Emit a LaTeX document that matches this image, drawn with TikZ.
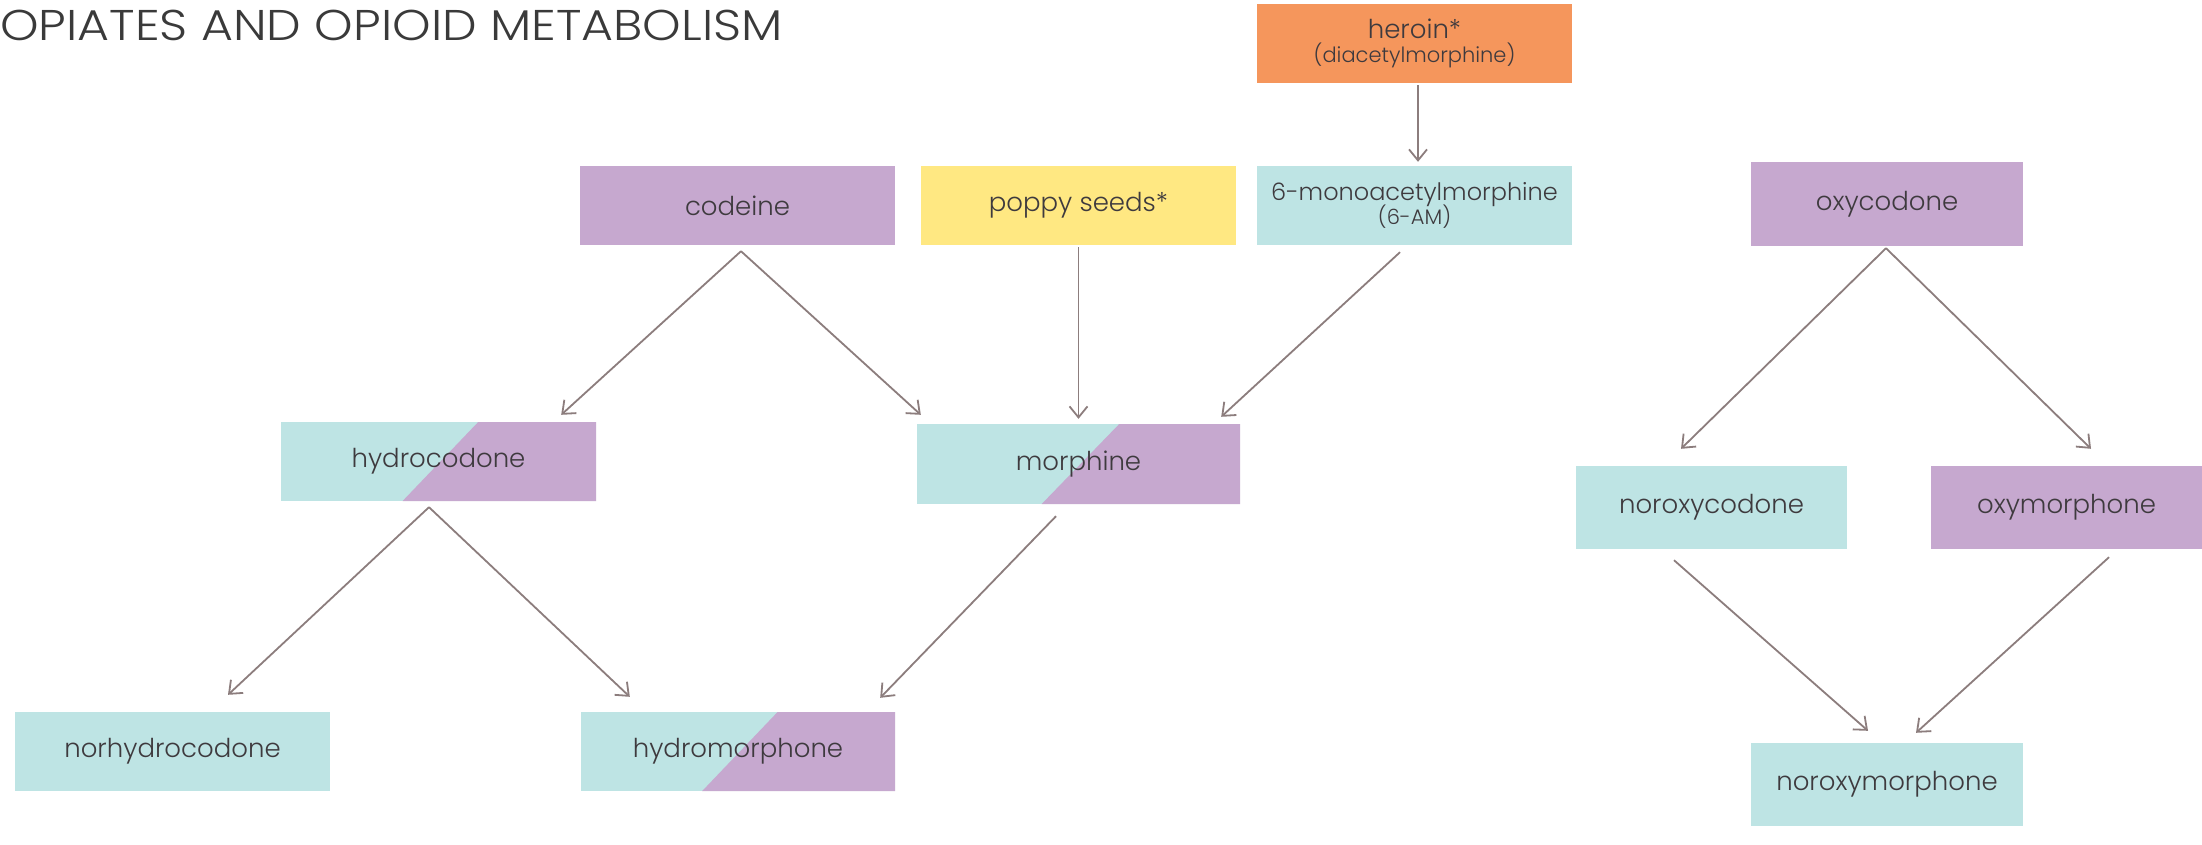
\documentclass[tikz,border=0pt]{standalone}
\usepackage{fontspec}
\setmainfont{Poppins Light}
\usetikzlibrary{arrows.meta,calc}
\definecolor{tealbox}{HTML}{BEE4E4}
\definecolor{purpbox}{HTML}{C6A8CF}
\definecolor{yellbox}{HTML}{FFE882}
\definecolor{orngbox}{HTML}{F5965C}
\definecolor{arrowc}{HTML}{8C7D7D}
\definecolor{txt}{HTML}{3E3A3E}
\definecolor{titlec}{HTML}{3A3A3A}
\begin{document}
\begin{tikzpicture}[x=1pt,y=-1pt,
  box/.style={inner sep=0pt, minimum width=315pt, minimum height=79pt,
    font=\fontsize{26}{30}\selectfont, text=txt, align=center},
  tealb/.style={box, fill=tealbox},
  purpb/.style={box, fill=purpbox},
  yellb/.style={box, fill=yellbox},
  orngb/.style={box, fill=orngbox},
  splitb/.style={box, fill=tealbox, path picture={
    \fill[purpbox] ($(path picture bounding box.north west)!0.626!(path picture bounding box.north east)$)
      -- (path picture bounding box.north east) -- (path picture bounding box.south east)
      -- ($(path picture bounding box.south west)!0.386!(path picture bounding box.south east)$) -- cycle;}},
  arr/.style={draw=arrowc, line width=1.8pt,
    -{Straight Barb[length=11pt,width=18pt,line width=1.8pt]}}
]
\useasboundingbox[fill=white] (0,0) rectangle (2202,844);

\node[anchor=base west, inner sep=0pt, text=titlec, font=\fontsize{43}{48}\selectfont] (title) at (0,40) {\scalebox{1.14}[1]{OPIATES AND OPIOID METABOLISM}};

\node[orngb] (heroin) at (1414.5,43.5) {heroin*\\[-6pt]{\fontsize{21}{24}\selectfont (diacetylmorphine)}};
\node[tealb] (sixam) at (1414.5,205.5) {{\fontsize{24}{28}\selectfont 6-monoacetylmorphine}\\[-6pt]{\fontsize{21}{24}\selectfont (6-AM)}};
\node[purpb] (codeine) at (737.5,205.5) {codeine};
\node[yellb] (poppy) at (1078.5,205.5) {poppy seeds*};
\node[purpb, minimum width=272pt, minimum height=84pt] (oxycodone) at (1887,204) {oxycodone};
\node[splitb] (hydrocodone) at (438.5,461.5) {hydrocodone};
\node[splitb, minimum width=323pt, minimum height=80pt] (morphine) at (1078.5,464) {morphine};
\node[tealb, minimum width=271pt, minimum height=83pt] (noroxycodone) at (1711.5,507.5) {noroxycodone};
\node[purpb, minimum width=271pt, minimum height=83pt] (oxymorphone) at (2066.5,507.5) {oxymorphone};
\node[tealb] (norhydrocodone) at (172.5,751.5) {norhydrocodone};
\node[splitb, minimum width=314pt] (hydromorphone) at (738,751.5) {hydromorphone};
\node[tealb, minimum width=272pt, minimum height=83pt] (noroxymorphone) at (1887,784.5) {noroxymorphone};

\draw[arr] ([xshift=3.5pt,yshift=-2pt]heroin.south) -- ([xshift=3.5pt,yshift=4pt]sixam.north);
\draw[arr] ([xshift=3.5pt,yshift=-6pt]codeine.south) -- ([xshift=-35pt,yshift=7pt]hydrocodone.north east);
\draw[arr] ([xshift=3.5pt,yshift=-6pt]codeine.south) -- ([xshift=4pt,yshift=9pt]morphine.north west);
\draw[arr] ([yshift=-2pt]poppy.south) -- ([yshift=5pt]morphine.north);
\draw[arr] ([xshift=-14.5pt,yshift=-7pt]sixam.south) -- ([xshift=-19pt,yshift=7pt]morphine.north east);
\draw[arr] ([xshift=-9.5pt,yshift=-6pt]hydrocodone.south) -- ([xshift=55.5pt,yshift=17pt]norhydrocodone.north);
\draw[arr] ([xshift=-9.5pt,yshift=-6pt]hydrocodone.south) -- ([xshift=49pt,yshift=15pt]hydromorphone.north west);
\draw[arr] ([xshift=-22.5pt,yshift=-12pt]morphine.south) -- ([xshift=-15pt,yshift=14pt]hydromorphone.north east);
\draw[arr] ([xshift=-1pt,yshift=-2pt]oxycodone.south) -- ([xshift=-30.5pt,yshift=17pt]noroxycodone.north);
\draw[arr] ([xshift=-1pt,yshift=-2pt]oxycodone.south) -- ([xshift=24.5pt,yshift=17pt]oxymorphone.north);
\draw[arr] ([xshift=-37.5pt,yshift=-11pt]noroxycodone.south) -- ([xshift=-19pt,yshift=12pt]noroxymorphone.north);
\draw[arr] ([xshift=42.5pt,yshift=-8pt]oxymorphone.south) -- ([xshift=29pt,yshift=10pt]noroxymorphone.north);
\end{tikzpicture}
\end{document}
